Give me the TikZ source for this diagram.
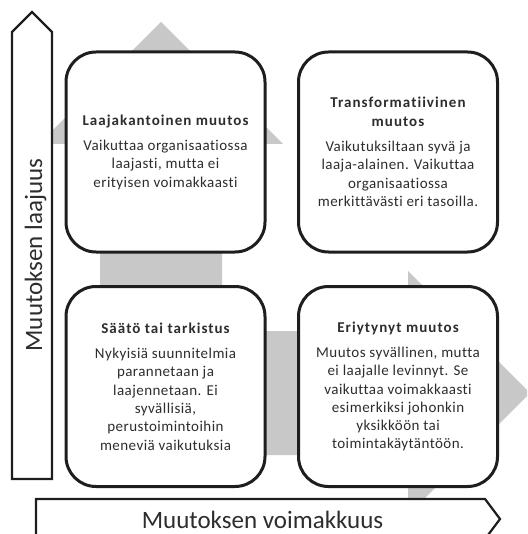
\documentclass[tikz,border=0pt]{standalone}
\usepackage{fontspec}
\setmainfont[Ligatures=NoCommon]{Carlito}
\newfontfamily\bodyfont[LetterSpace=3,Ligatures=NoCommon]{Carlito}
\newfontfamily\titlefont[LetterSpace=7,Ligatures=NoCommon]{Carlito}
\definecolor{arrowgray}{RGB}{200,200,200}
\definecolor{inkc}{RGB}{45,45,45}
\definecolor{linec}{RGB}{30,30,30}
\newcommand\boxttl[1]{{\titlefont\bfseries\fontsize{15}{18.3}\selectfont #1}}
\begin{document}
\begin{tikzpicture}[x=1pt,y=-1pt,
  box/.style={draw=linec, line width=3pt, rounded corners=30pt, fill=white,
    minimum width=199pt, minimum height=200pt, inner sep=0pt, align=center,
    text=inkc, font=\bodyfont\fontsize{15}{18.3}\selectfont},
  axisarrow/.style={draw=linec, line width=2.2pt, fill=white, line join=miter},
  axislabel/.style={text=inkc, font=\fontsize{25}{28}\selectfont, inner sep=0pt},
  bigarrow/.style={fill=arrowgray, draw=none}]
\useasboundingbox (0,0) rectangle (527,534);
\clip (0,0) rectangle (527,534);
% gray background arrows
\fill[bigarrow] (100,393) -- (100,144) -- (39,144) -- (161,22) -- (283,144) -- (222,144) -- (222,393) -- cycle;
\fill[bigarrow] (161,331) -- (408,331) -- (408,271) -- (530,393) -- (408,515) -- (408,455) -- (161,455) -- cycle;
% axis arrows
\draw[axisarrow] (12,479) -- (12,32) -- (32,12) -- (52,32) -- (52,479) -- cycle;
\draw[axisarrow] (36,540) -- (36,499) -- (485,499) -- (500,519) -- (485,539) -- (485,540);
\node[axislabel, rotate=90, anchor=base] (ylab) at (42,255) {Muutoksen laajuus};
\node[axislabel, anchor=base] (xlab) at (262.5,528) {Muutoksen voimakkuus};
% boxes
\node[box] (tl) at (165.5,152) {\boxttl{Laajakantoinen muutos}\\[7pt]
  Vaikuttaa organisaatiossa\\ laajasti, mutta ei\\ erityisen voimakkaasti};
\node[box] (tr) at (398,152) {\boxttl{Transformatiivinen}\\ \boxttl{muutos}\\[7pt]
  Vaikutuksiltaan syvä ja\\ laaja-alainen. Vaikuttaa\\ organisaatiossa\\ merkittävästi eri tasoilla.};
\node[box] (bl) at (165.5,386.5) {\boxttl{Säätö tai tarkistus}\\[7pt]
  Nykyisiä suunnitelmia\\ parannetaan ja\\ laajennetaan. Ei\\ syvällisiä,\\ perustoimintoihin\\ meneviä vaikutuksia};
\node[box] (br) at (398,386.5) {\boxttl{Eriytynyt muutos}\\[7pt]
  Muutos syvällinen, mutta\\ ei laajalle levinnyt. Se\\ vaikuttaa voimakkaasti\\ esimerkiksi johonkin\\ yksikköön tai\\ toimintakäytäntöön.};
\end{tikzpicture}
\end{document}
